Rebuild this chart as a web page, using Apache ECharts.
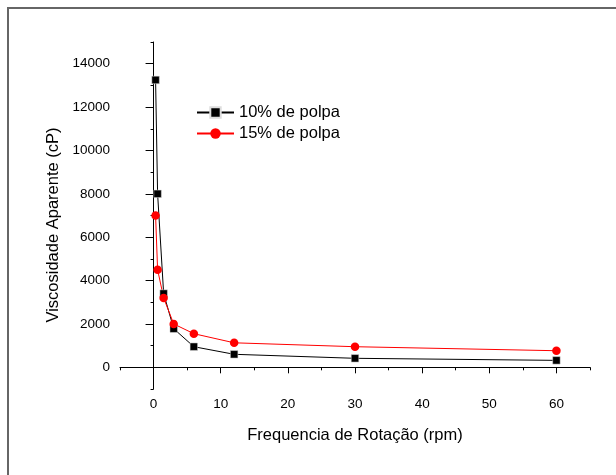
<!DOCTYPE html>
<html>
<head>
<meta charset="utf-8">
<script src="https://cdn.jsdelivr.net/npm/echarts@6/dist/echarts.min.js"></script>
<style>
html,body{margin:0;padding:0;background:#fff;}
#c{width:616px;height:475px;}
</style>
</head>
<body>
<div id="c"></div>
<script>
const rpm = [0.3, 0.6, 1.5, 3, 6, 12, 30, 60];
const pulp10 = [13250, 8000, 3400, 1780, 950, 600, 415, 320];
const pulp15 = [7000, 4500, 3200, 2000, 1550, 1130, 950, 765];
const xTicks = [0, 10, 20, 30, 40, 50, 60];
const yTicks = [0, 2000, 4000, 6000, 8000, 10000, 12000, 14000];
const seriesNames = ['10% de polpa', '15% de polpa'];
const xTitle = 'Frequencia de Rotação (rpm)';
const yTitle = 'Viscosidade Aparente (cP)';

const FONT = "'Liberation Sans', Arial, sans-serif";
const chart = echarts.init(document.getElementById('c'), null, {renderer: 'canvas'});

const pairs = (xs, ys) => xs.map((x, i) => [x, ys[i]]);
const plain = v => String(v);

chart.setOption({
  animation: false,
  backgroundColor: '#fff',
  textStyle: {fontFamily: FONT},
  graphic: [{
    type: 'rect', shape: {x: 8, y: 8, width: 700, height: 600},
    style: {fill: 'none', stroke: '#666', lineWidth: 2}, silent: true
  }],
  grid: {left: 120, right: 26, top: 42, bottom: 86, containLabel: false},
  legend: {
    orient: 'vertical', left: 191, top: 99,
    itemWidth: 37, itemHeight: 13, itemGap: 4,
    textStyle: {fontFamily: FONT, fontSize: 16.5, color: '#000', lineHeight: 16},
    data: seriesNames
  },
  xAxis: [{
    type: 'value', min: -5, max: 65, interval: 5,
    name: xTitle, nameLocation: 'middle', nameGap: 38,
    nameTextStyle: {fontFamily: FONT, fontSize: 16.5, color: '#000'},
    axisLine: {show: true, lineStyle: {color: '#000', width: 1}},
    axisTick: {show: true, length: 6, customValues: xTicks, lineStyle: {color: '#000', width: 1}},
    axisLabel: {customValues: xTicks, margin: 8, formatter: plain, fontFamily: FONT, fontSize: 13.5, color: '#000'},
    splitLine: {show: false}
  }, {
    type: 'value', min: -5, max: 65, interval: 5, position: 'bottom', offset: 0,
    axisLine: {show: false},
    axisTick: {show: true, length: 3, lineStyle: {color: '#000', width: 1}},
    axisLabel: {show: false}, splitLine: {show: false}
  }],
  yAxis: [{
    type: 'value', min: -1000, max: 15000, interval: 1000,
    name: yTitle, nameLocation: 'middle', nameGap: 51,
    nameTextStyle: {fontFamily: FONT, fontSize: 16.5, color: '#000', padding: [0, 19, 0, 0]},
    axisLine: {show: true, lineStyle: {color: '#000', width: 1}},
    axisTick: {show: true, length: 8, customValues: yTicks, lineStyle: {color: '#000', width: 1}},
    axisLabel: {customValues: yTicks, margin: 10, formatter: plain, fontFamily: FONT, fontSize: 13.5, color: '#000'},
    splitLine: {show: false}
  }, {
    type: 'value', min: -1000, max: 15000, interval: 1000, position: 'left', offset: 0,
    axisLine: {show: false},
    axisTick: {show: true, length: 3, lineStyle: {color: '#000', width: 1}},
    axisLabel: {show: false}, splitLine: {show: false}
  }],
  series: [{
    name: seriesNames[0], type: 'line', xAxisIndex: 0, yAxisIndex: 0,
    data: pairs(rpm, pulp10),
    symbol: 'rect', symbolSize: 7.5,
    itemStyle: {color: '#000', borderColor: '#ddd', borderWidth: 0.5},
    lineStyle: {color: '#000', width: 1}
  }, {
    name: seriesNames[1], type: 'line', xAxisIndex: 0, yAxisIndex: 0,
    data: pairs(rpm, pulp15),
    symbol: 'circle', symbolSize: 8.5,
    itemStyle: {color: '#ff0000', borderColor: '#ff0000', borderWidth: 0},
    lineStyle: {color: '#ff0000', width: 1}
  }]
});
</script>
</body>
</html>
